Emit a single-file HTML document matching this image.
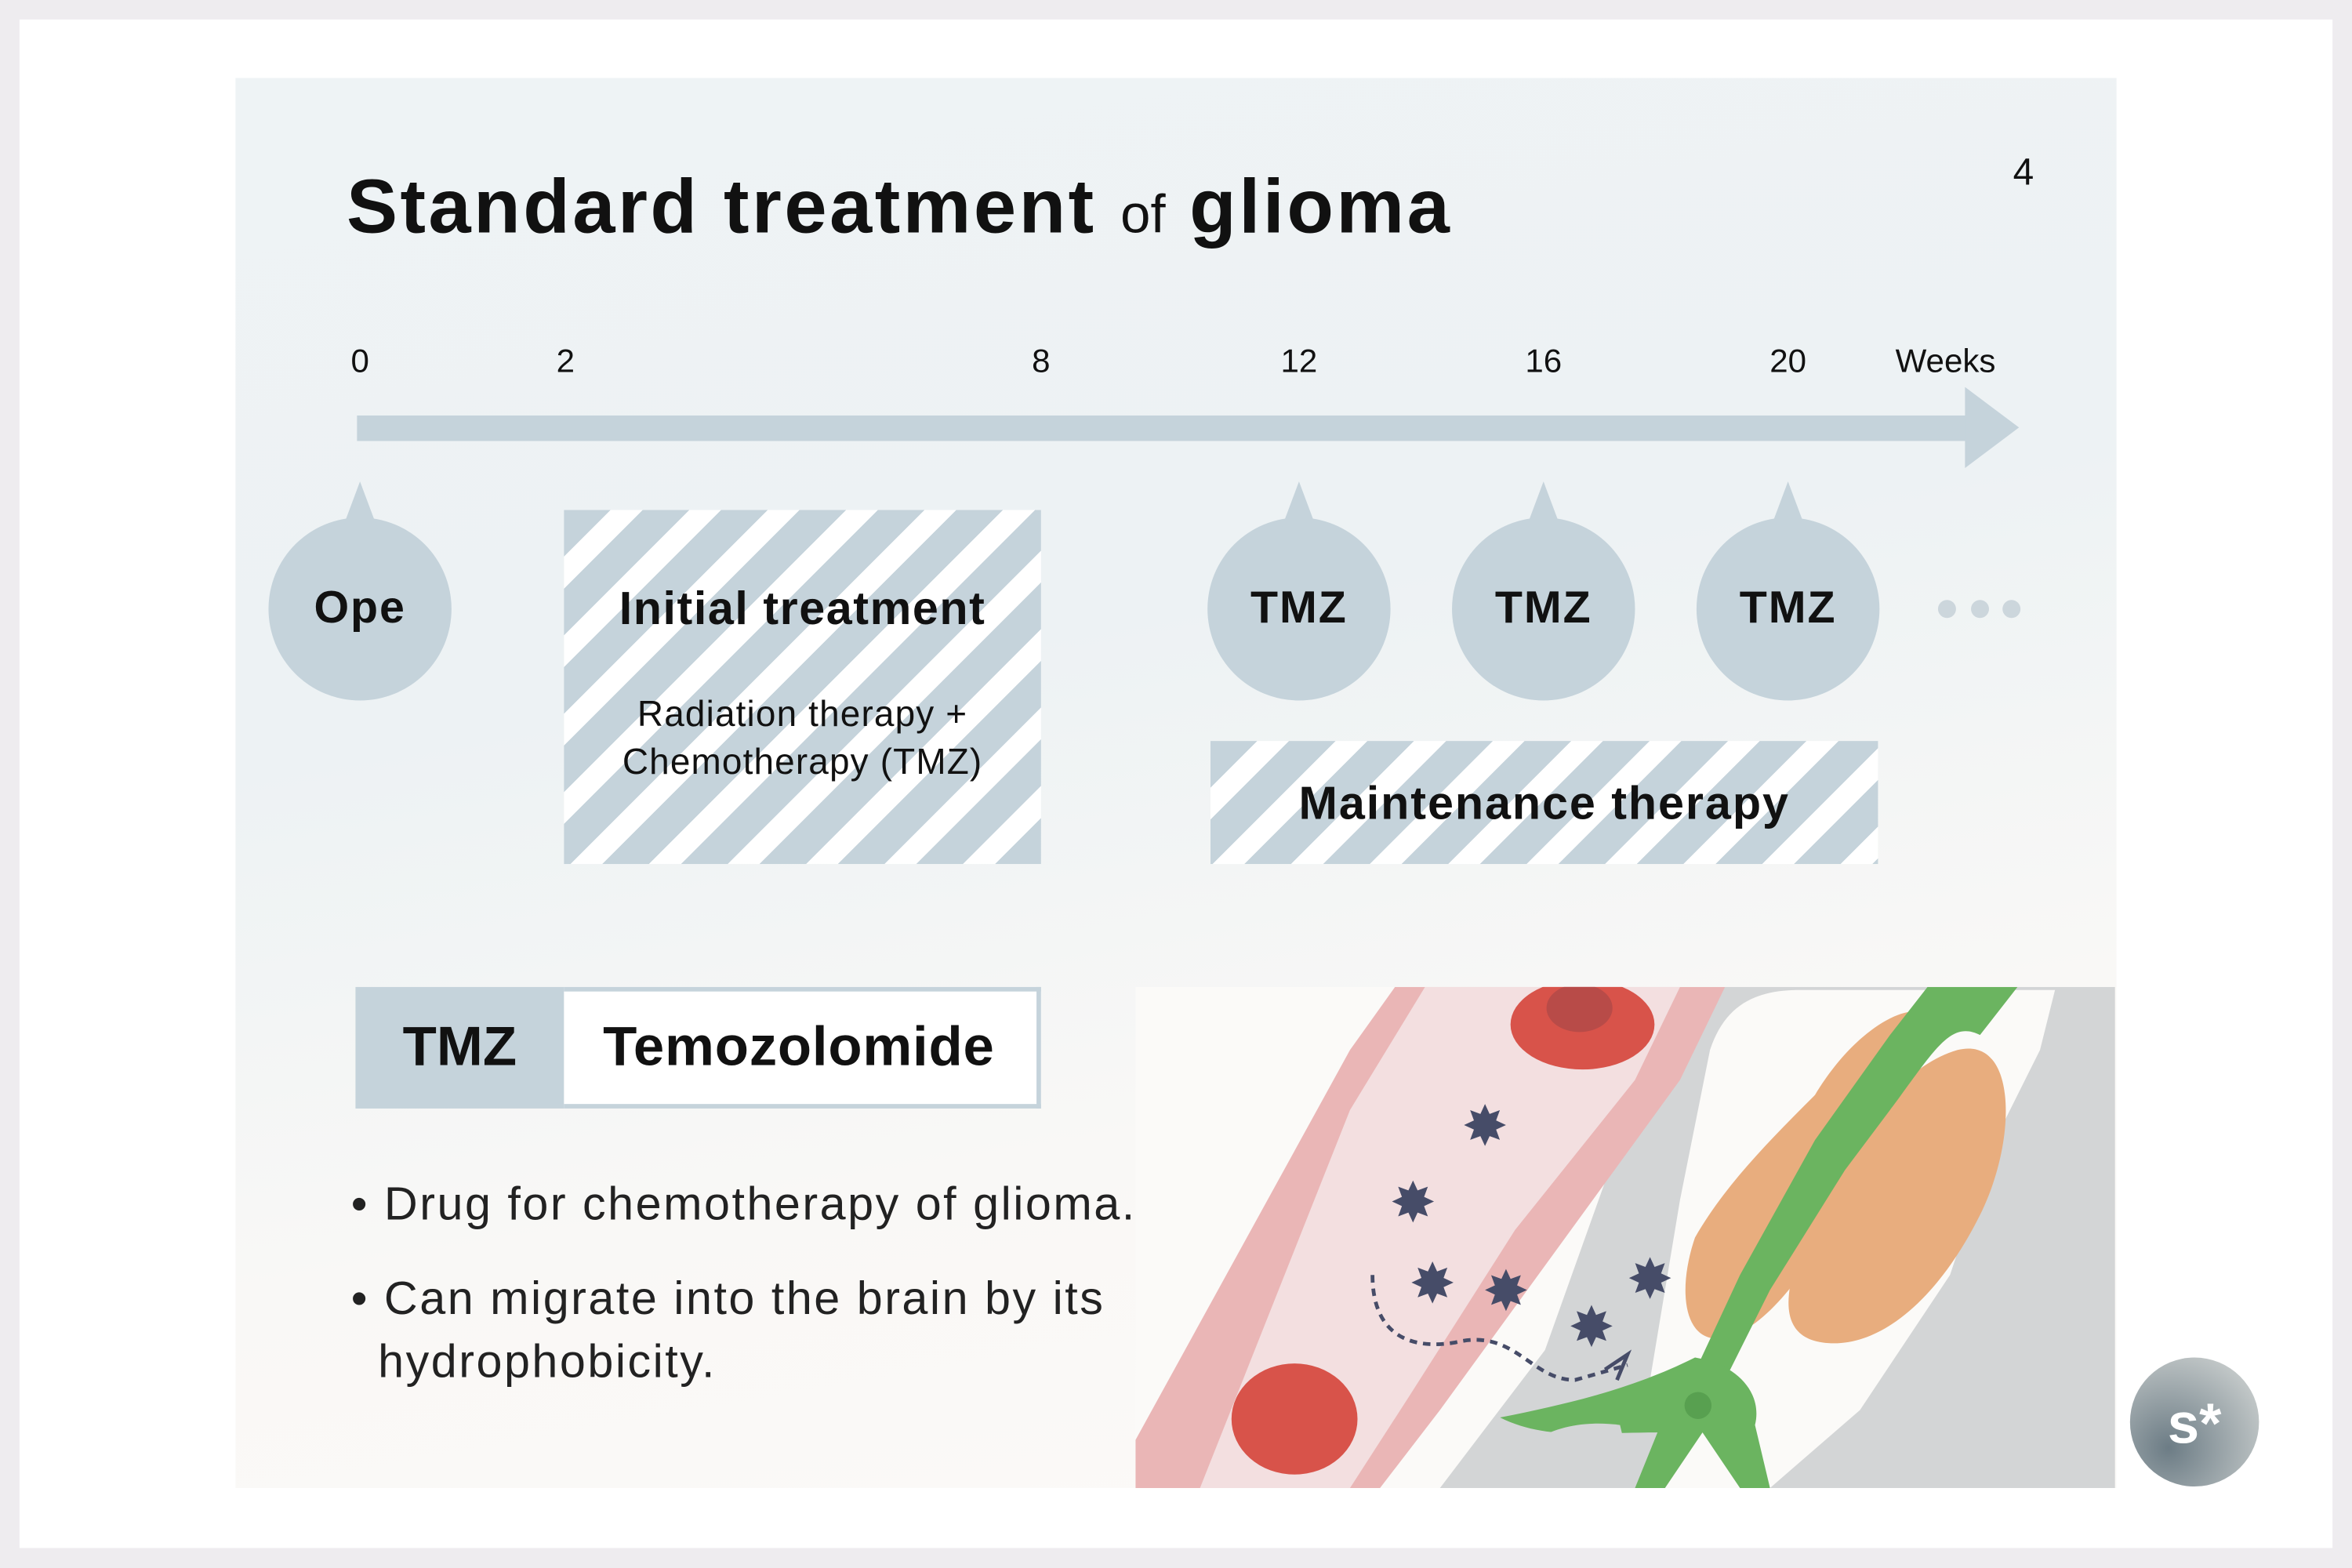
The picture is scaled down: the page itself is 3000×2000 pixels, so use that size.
<!DOCTYPE html>
<html><head><meta charset="utf-8"><style>
html,body{margin:0;padding:0;background:#eeecef;width:3000px;height:2000px;overflow:hidden}
#w{position:absolute;left:0;top:0;width:1568px;height:1045px;transform:scale(1.91327);transform-origin:0 0;font-family:"Liberation Sans",sans-serif;color:#111}
.frame{position:absolute;left:13px;top:13px;width:1542px;height:1019px;background:#fff}
.slide{position:absolute;left:157px;top:52px;width:1254px;height:940px;background:linear-gradient(170deg,#eef3f5 0%,#edf2f4 40%,#f9f8f6 70%,#fcfaf8 100%)}
.t{position:absolute;white-space:nowrap}
.lab{font-size:22px;top:228px;transform:translateX(-50%)}
.circ{position:absolute;width:122px;height:122px;border-radius:50%;background:#c5d3db;top:345px;display:flex;align-items:center;justify-content:center;font-size:30px;font-weight:bold;letter-spacing:1px}
.circ:before{content:"";position:absolute;left:49px;top:-24px;border-left:12px solid transparent;border-right:12px solid transparent;border-bottom:32px solid #c5d3db}
.hatch{position:absolute;background:repeating-linear-gradient(135deg,#c5d3db 0 22px,#fff 22px 37px)}
</style></head><body><div id="w">
<div class="frame"></div>
<div class="slide"></div>
<div class="t" style="left:231px;top:108px;font-size:51px;font-weight:bold;letter-spacing:1.8px">Standard treatment <span style="font-weight:normal;font-size:36px;letter-spacing:0">of</span> glioma</div>
<div class="t" style="left:1342px;top:101px;font-size:25px">4</div>
<div class="t lab" style="left:240px">0</div>
<div class="t lab" style="left:377px">2</div>
<div class="t lab" style="left:694px">8</div>
<div class="t lab" style="left:866px">12</div>
<div class="t lab" style="left:1029px">16</div>
<div class="t lab" style="left:1192px">20</div>
<div class="t lab" style="left:1297px">Weeks</div>
<svg style="position:absolute;left:0;top:0" width="1568" height="1045">
<rect x="238" y="277" width="1075" height="17" fill="#c5d3db"/>
<polygon points="1310,258 1346,285 1310,312" fill="#c5d3db"/>
<circle cx="1298" cy="406" r="6" fill="#ccd6dc"/><circle cx="1320" cy="406" r="6" fill="#ccd6dc"/><circle cx="1341" cy="406" r="6" fill="#ccd6dc"/>
</svg>
<div class="circ" style="left:179px">Ope</div>
<div class="circ" style="left:805px">TMZ</div>
<div class="circ" style="left:968px">TMZ</div>
<div class="circ" style="left:1131px">TMZ</div>
<div class="hatch" style="left:376px;top:340px;width:318px;height:236px"></div>
<div class="t" style="left:376px;width:318px;text-align:center;top:388px;font-size:31px;font-weight:bold;letter-spacing:0.8px">Initial treatment</div>
<div class="t" style="left:376px;width:318px;text-align:center;top:461px;font-size:24px;line-height:32px;letter-spacing:0.6px">Radiation therapy +<br>Chemotherapy (TMZ)</div>
<div class="hatch" style="left:807px;top:494px;width:445px;height:82px"></div>
<div class="t" style="left:807px;width:445px;text-align:center;top:518px;font-size:31px;font-weight:bold;letter-spacing:1px">Maintenance therapy</div>
<div style="position:absolute;left:237px;top:658px;width:139px;height:81px;background:#c5d3db"></div>
<div style="position:absolute;left:376px;top:658px;width:315px;height:75px;border:3px solid #c5d3db;border-left:none;background:#fff"></div>
<div class="t" style="left:237px;width:139px;text-align:center;top:677px;font-size:37px;font-weight:bold">TMZ</div>
<div class="t" style="left:402px;top:677px;font-size:37px;font-weight:bold;letter-spacing:0.4px">Temozolomide</div>
<div class="t" style="left:234px;top:785px;font-size:31px;color:#222;letter-spacing:1.3px">• Drug for chemotherapy of glioma.</div>
<div class="t" style="left:234px;top:845px;font-size:31px;color:#222;line-height:42px;letter-spacing:1.3px">• Can migrate into the brain by its<br><span style="padding-left:18px">hydrophobicity.</span></div>
<svg style="position:absolute;left:0;top:0" width="1568" height="1045">
<defs><clipPath id="c"><rect x="757" y="658" width="654" height="334"/></clipPath>
<radialGradient id="lg" cx="0.3" cy="0.7" r="0.9"><stop offset="0" stop-color="#6c7c85"/><stop offset="1" stop-color="#cfd3d2"/></radialGradient>
<polygon id="st" points="0,-14 3.06,-7.39 9.9,-9.9 7.39,-3.06 14,0 7.39,3.06 9.9,9.9 3.06,7.39 0,14 -3.06,7.39 -9.9,9.9 -7.39,3.06 -14,0 -7.39,-3.06 -9.9,-9.9 -3.06,-7.39" fill="#464c68"/></defs>
<g clip-path="url(#c)">
<rect x="757" y="658" width="654" height="334" fill="#fbfaf8"/>
<path d="M1150,658 L1410,658 L1410,992 L960,992 L1030,900 L1080,760 Z" fill="#d3d5d6"/>
<path d="M1140,700 C1150,670 1170,660 1200,660 L1370,660 L1360,700 L1330,760 L1300,850 L1240,940 L1180,992 L1110,992 L1100,920 L1120,800 Z" fill="#fbfaf8"/>
<path d="M1210,730 C1240,680 1280,665 1285,680 C1290,700 1260,760 1230,800 C1210,840 1180,885 1150,892 C1122,897 1118,860 1130,825 C1150,790 1180,760 1210,730 Z" fill="#e8ad7e"/>
<path d="M1305,700 C1345,690 1345,760 1320,810 C1290,870 1250,900 1215,895 C1180,890 1190,850 1215,800 C1240,750 1270,710 1305,700 Z" fill="#e8ad7e"/>
<path d="M1285,658 L1345,658 L1320,690 C1300,680 1290,700 1260,740 L1230,780 L1180,860 L1150,920 L1125,925 L1160,850 L1210,760 L1260,690 Z" fill="#6bb460"/>
<path d="M1130,905 C1160,910 1175,930 1170,950 L1180,992 L1160,992 L1135,955 L1110,992 L1090,992 L1105,955 C1060,955 1030,960 1000,945 C1050,935 1090,925 1130,905 Z" fill="#6bb460"/>
<circle cx="1132" cy="937" r="9" fill="#58a050"/>
<path d="M1000,992 C1010,960 1040,945 1080,950 L1090,992 Z" fill="#d3d5d6"/>
<path d="M790,992 L757,992 L757,960 L900,700 L930,658 L1150,658 L1120,720 L1040,830 L960,940 L920,992 Z" fill="#eab6b6"/>
<path d="M800,992 L900,740 L950,658 L1120,658 L1090,720 L1010,820 L940,930 L900,992 Z" fill="#f3dfe0"/>
<ellipse cx="1055" cy="683" rx="48" ry="30" fill="#d8534a"/><ellipse cx="1053" cy="672" rx="22" ry="16" fill="#b84b48"/>
<ellipse cx="863" cy="946" rx="42" ry="37" fill="#d8534a"/>
<use href="#st" x="990" y="750"/><use href="#st" x="942" y="801"/><use href="#st" x="955" y="855"/><use href="#st" x="1004" y="860"/><use href="#st" x="1100" y="852"/><use href="#st" x="1061" y="884"/>
<path d="M915,850 C915,890 940,900 970,895 C1010,885 1020,920 1050,920 L1085,910" fill="none" stroke="#464c68" stroke-width="2.5" stroke-dasharray="5,4"/>
<path d="M1070,913 L1085,903 L1078,920" fill="none" stroke="#464c68" stroke-width="2.5"/>
</g>
<circle cx="1463" cy="948" r="43" fill="url(#lg)"/>
<text x="1463" y="962" font-family="Liberation Sans" font-weight="bold" font-size="38" fill="#fff" text-anchor="middle">s*</text>
</svg>
</div></body></html>
